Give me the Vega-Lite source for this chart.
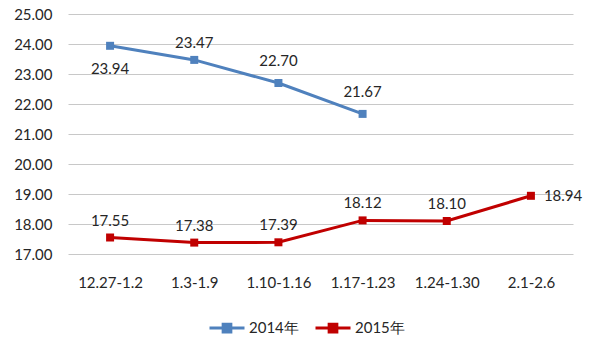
{
  "$schema": "https://vega.github.io/schema/vega-lite/v6.json",
  "width": 505,
  "height": 240,
  "autosize": "none",
  "padding": {"left": 68, "top": 14, "right": 27, "bottom": 98},
  "background": "white",
  "config": {
    "font": "Lato",
    "view": {"stroke": null},
    "axis": {"labelFont": "Lato", "labelFontSize": 15, "labelColor": "#262626"},
    "text": {"font": "Lato", "fontSize": 15, "color": "#262626"}
  },
  "data": {
    "values": [
      {"week": "12.27-1.2", "series": "2014年", "value": 23.94},
      {"week": "1.3-1.9", "series": "2014年", "value": 23.47},
      {"week": "1.10-1.16", "series": "2014年", "value": 22.70},
      {"week": "1.17-1.23", "series": "2014年", "value": 21.67},
      {"week": "12.27-1.2", "series": "2015年", "value": 17.55},
      {"week": "1.3-1.9", "series": "2015年", "value": 17.38},
      {"week": "1.10-1.16", "series": "2015年", "value": 17.39},
      {"week": "1.17-1.23", "series": "2015年", "value": 18.12},
      {"week": "1.24-1.30", "series": "2015年", "value": 18.10},
      {"week": "2.1-2.6", "series": "2015年", "value": 18.94}
    ]
  },
  "encoding": {
    "x": {
      "field": "week", "type": "ordinal",
      "sort": ["12.27-1.2", "1.3-1.9", "1.10-1.16", "1.17-1.23", "1.24-1.30", "2.1-2.6"],
      "scale": {"type": "point", "padding": 0.5},
      "axis": {"title": null, "domain": false, "ticks": false, "labelAngle": 0, "labelPadding": 21, "grid": false}
    },
    "y": {
      "field": "value", "type": "quantitative",
      "scale": {"domain": [17, 25], "zero": false, "nice": false},
      "axis": {"title": null, "values": [17, 18, 19, 20, 21, 22, 23, 24, 25], "format": ".2f", "domain": false, "ticks": false, "labelPadding": 16, "gridColor": "#C8C8C8", "gridWidth": 1}
    }
  },
  "layer": [
    {
      "mark": {"type": "line", "strokeWidth": 3},
      "encoding": {
        "color": {
          "field": "series", "type": "nominal",
          "scale": {"domain": ["2014年", "2015年"], "range": ["#4F81BD", "#C00000"]},
          "legend": {
            "title": null, "orient": "none", "direction": "horizontal",
            "legendX": 140, "legendY": 295,
            "symbolType": "M-1,0L1,0M-0.22,-0.22L0.22,-0.22L0.22,0.22L-0.22,0.22Z",
            "symbolSize": 1225, "symbolStrokeWidth": 3,
            "labelFontSize": 15, "labelColor": "#262626", "labelFont": "Lato",
            "columnPadding": 10, "labelOffset": 3, "padding": 0
          }
        }
      }
    },
    {
      "mark": {"type": "square", "size": 64, "opacity": 1, "filled": true},
      "encoding": {
        "color": {"field": "series", "type": "nominal", "legend": null}
      }
    },
    {
      "transform": [{"filter": "datum.week == '12.27-1.2' && datum.series == '2014年'"}],
      "mark": {"type": "text", "dy": 23},
      "encoding": {"text": {"field": "value", "type": "quantitative", "format": ".2f"}}
    },
    {
      "transform": [{"filter": "datum.week == '1.3-1.9' && datum.series == '2014年'"}],
      "mark": {"type": "text", "dy": -17},
      "encoding": {"text": {"field": "value", "type": "quantitative", "format": ".2f"}}
    },
    {
      "transform": [{"filter": "(datum.week == '1.10-1.16' || datum.week == '1.17-1.23') && datum.series == '2014年'"}],
      "mark": {"type": "text", "dy": -22},
      "encoding": {"text": {"field": "value", "type": "quantitative", "format": ".2f"}}
    },
    {
      "transform": [{"filter": "datum.series == '2015年' && datum.week != '2.1-2.6'"}],
      "mark": {"type": "text", "dy": -17},
      "encoding": {"text": {"field": "value", "type": "quantitative", "format": ".2f"}}
    },
    {
      "transform": [{"filter": "datum.series == '2015年' && datum.week == '2.1-2.6'"}],
      "mark": {"type": "text", "dx": 13, "align": "left"},
      "encoding": {"text": {"field": "value", "type": "quantitative", "format": ".2f"}}
    }
  ]
}
